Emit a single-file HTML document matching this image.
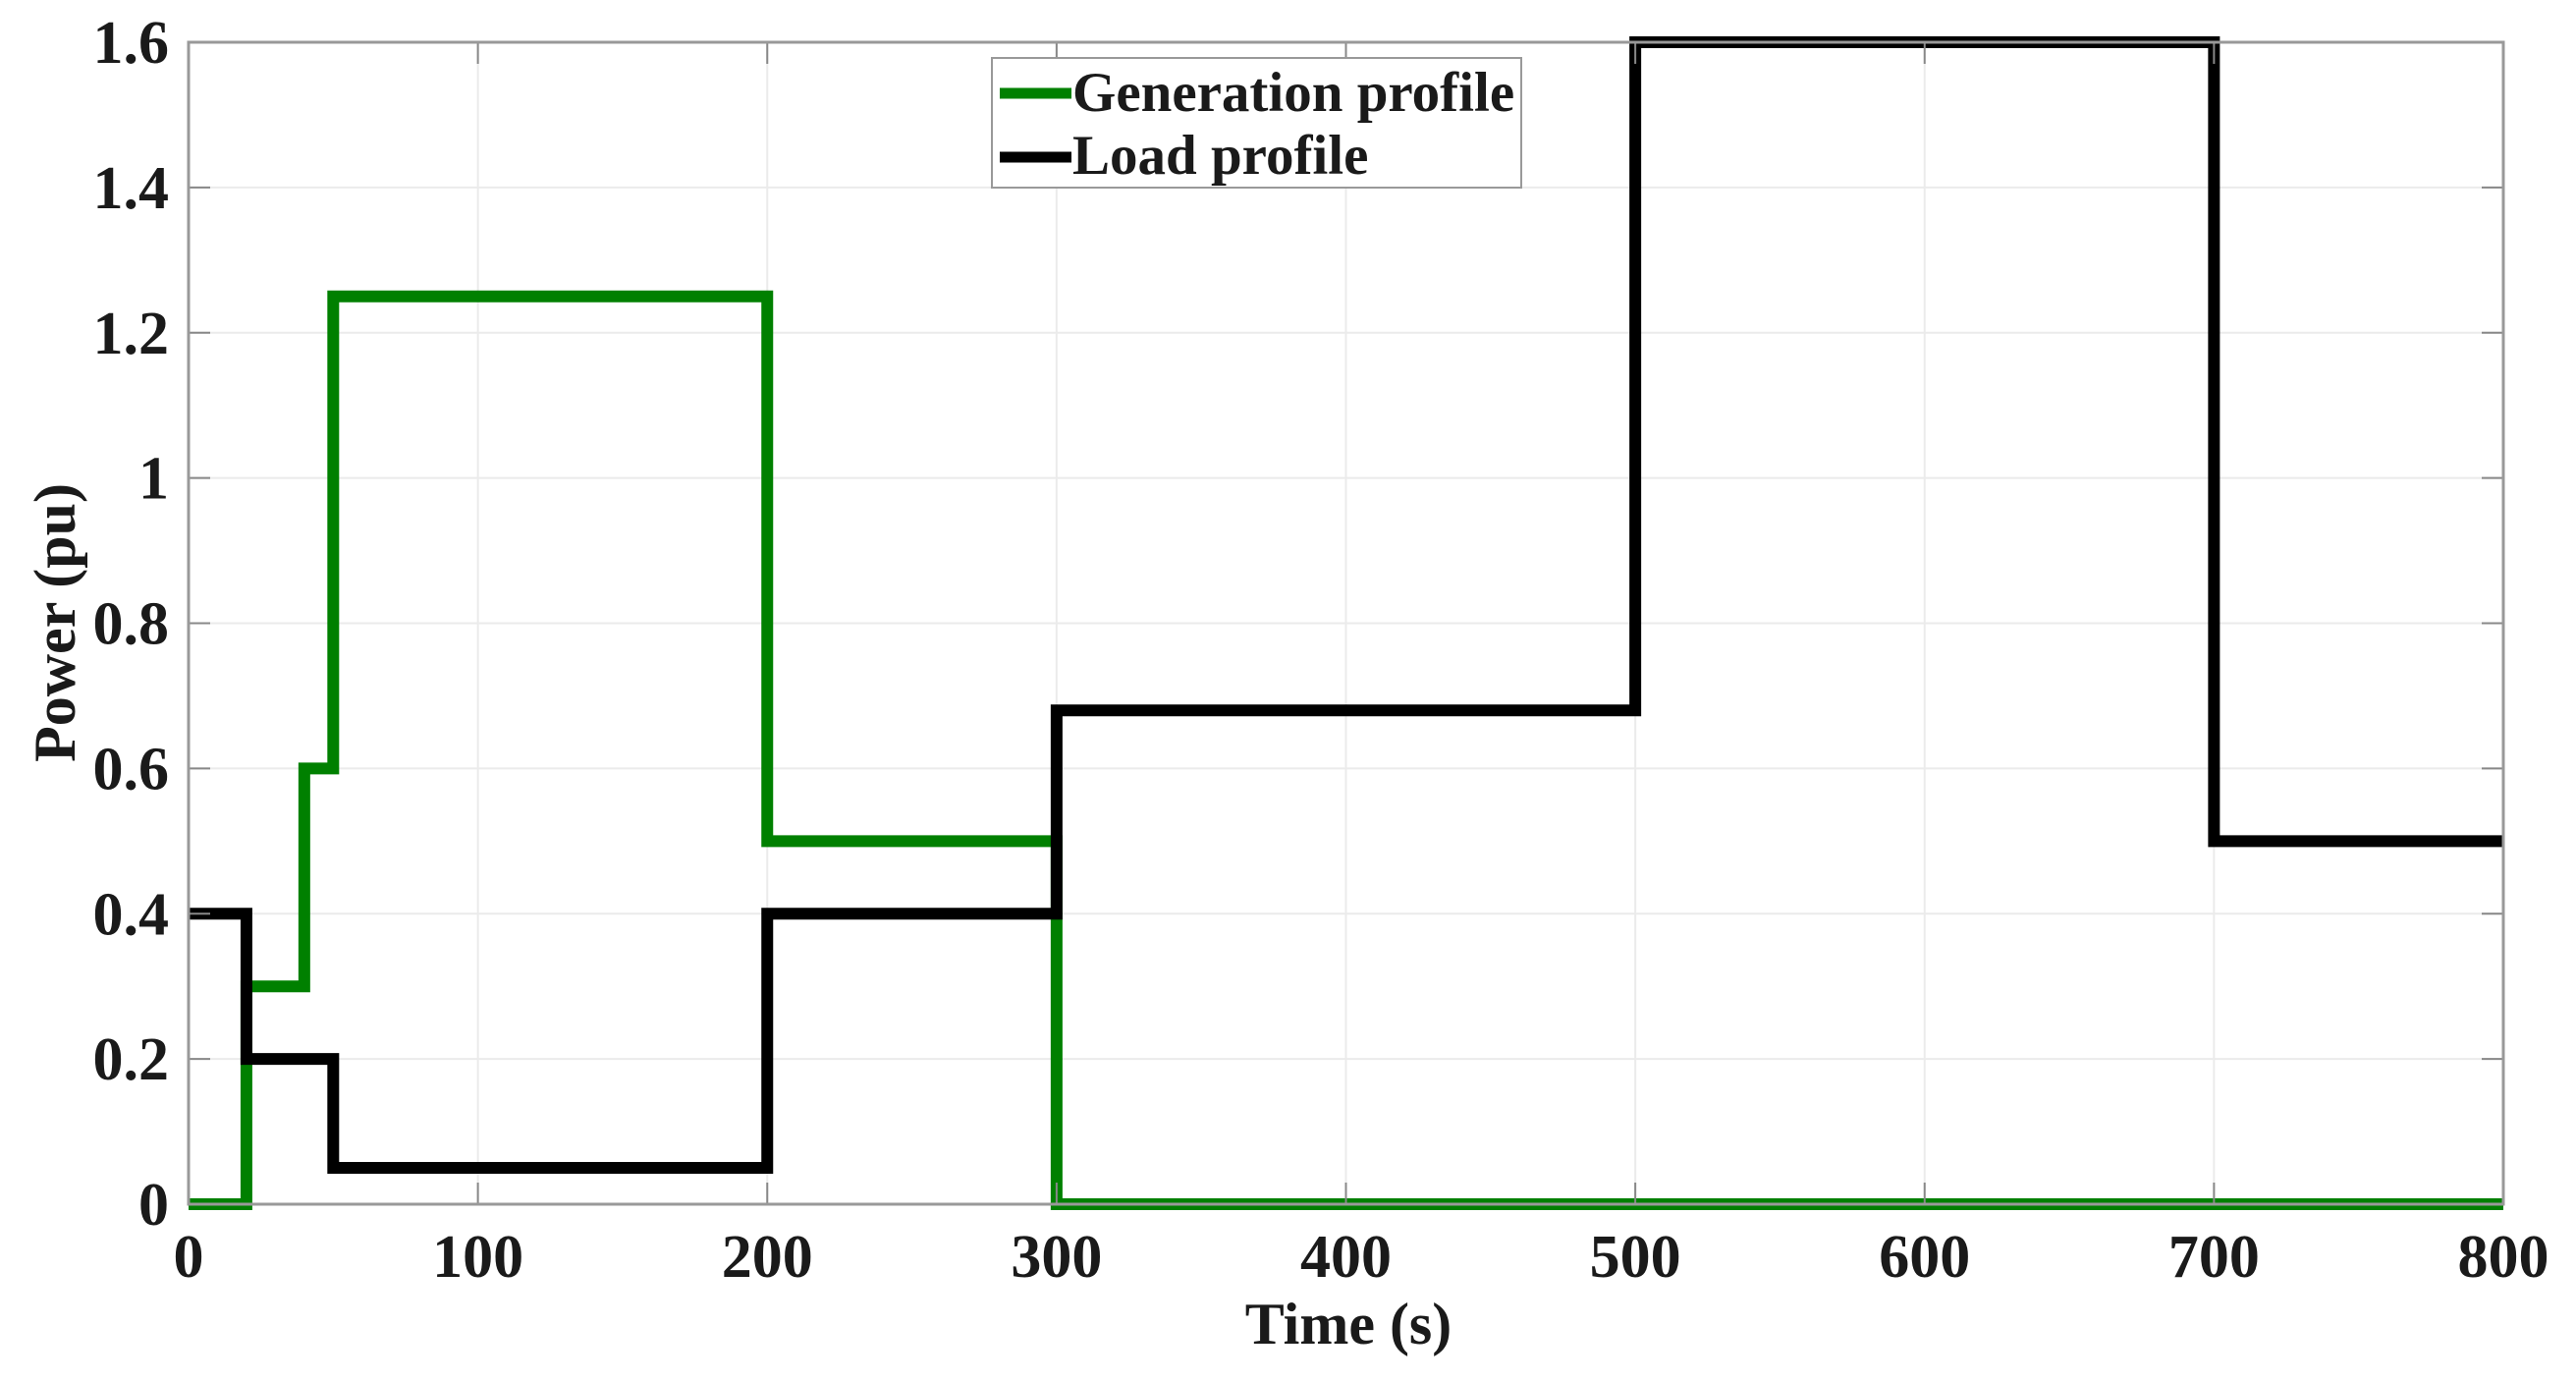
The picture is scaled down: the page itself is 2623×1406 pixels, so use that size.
<!DOCTYPE html>
<html><head><meta charset="utf-8"><style>
html,body{margin:0;padding:0;background:#fff;}
svg{display:block;}
text{font-family:"Liberation Serif",serif;font-weight:bold;fill:#1a1a1a;}
</style></head><body>
<svg id="chart" width="2623" height="1406" viewBox="0 0 2623 1406" xmlns="http://www.w3.org/2000/svg">
<g id="grid"></g>
<g id="series"></g>
<g id="axes"></g>
<text x="1373" y="1368" font-size="60" text-anchor="middle">Time (s)</text>
<text transform="translate(76,634) rotate(-90)" font-size="60" text-anchor="middle">Power (pu)</text>
<g>
<rect x="1010" y="59" width="539" height="132" fill="#fff" stroke="#999" stroke-width="2"/>
<line x1="1018" y1="95" x2="1091" y2="95" stroke="#008000" stroke-width="11"/>
<text x="1092" y="113" font-size="57">Generation profile</text>
<line x1="1018" y1="160" x2="1091" y2="160" stroke="#000" stroke-width="11"/>
<text x="1092" y="177" font-size="57">Load profile</text>
</g>
</svg>
<script>
const xTicks=[0,100,200,300,400,500,600,700,800];
const yTicks=[0,0.2,0.4,0.6,0.8,1,1.2,1.4,1.6];
const yTickLabels=["0","0.2","0.4","0.6","0.8","1","1.2","1.4","1.6"];
const genTimes=[0,20,40,50,200,300,800];
const genValues=[0,0.3,0.6,1.25,0.5,0,0];
const loadTimes=[0,20,50,200,300,500,700,800];
const loadValues=[0.4,0.2,0.05,0.4,0.68,1.6,0.5,0.5];
const L=192,R=2549,T=43,B=1226;
const xs=v=>L+(v-0)/(800-0)*(R-L);
const ys=v=>B-(v-0)/(1.6-0)*(B-T);
const NS="http://www.w3.org/2000/svg";
function mk(tag,attrs,parent){const e=document.createElementNS(NS,tag);for(const k in attrs)e.setAttribute(k,attrs[k]);parent.appendChild(e);return e;}
const grid=document.getElementById('grid'),axes=document.getElementById('axes'),series=document.getElementById('series');
xTicks.forEach((t,i)=>{
  const g=mk('line',{x1:xs(t),x2:xs(t),y1:T,y2:B,stroke:'#ebebeb','stroke-width':2},grid);
  
  
  const a=mk('line',{x1:xs(t),x2:xs(t),y1:B,y2:B-22,stroke:'#888','stroke-width':2},axes);
  
  
  const b=mk('line',{x1:xs(t),x2:xs(t),y1:T,y2:T+22,stroke:'#888','stroke-width':2},axes);
  
  
  const tx=mk('text',{x:xs(t),y:1300,'font-size':62,'text-anchor':'middle'},axes);
  tx.textContent=String(t);
  
  
});
yTicks.forEach((t,i)=>{
  const g=mk('line',{x1:L,x2:R,y1:ys(t),y2:ys(t),stroke:'#ebebeb','stroke-width':2},grid);
  
  
  const a=mk('line',{x1:L,x2:L+22,y1:ys(t),y2:ys(t),stroke:'#888','stroke-width':2},axes);
  
  
  const b=mk('line',{x1:R,x2:R-22,y1:ys(t),y2:ys(t),stroke:'#888','stroke-width':2},axes);
  
  
  const tx=mk('text',{x:172,y:ys(t)+21,'font-size':62,'text-anchor':'end'},axes);
  tx.textContent=yTickLabels[i];
  
  
});
const frame=mk('rect',{x:L,y:T,width:R-L,height:B-T,fill:'none',stroke:'#999','stroke-width':3},axes);


function stepPath(times,vals){
  let d='M'+xs(times[0])+','+ys(vals[0]);
  for(let i=1;i<times.length;i++){d+=' H'+xs(times[i]);if(i<vals.length&&i<times.length-1)d+=' V'+ys(vals[i]);}
  return d;
}
const gp=mk('path',{d:stepPath(genTimes,genValues),fill:'none',stroke:'#008000','stroke-width':12,'stroke-linejoin':'miter'},series);


const lp=mk('path',{d:stepPath(loadTimes,loadValues),fill:'none',stroke:'#000','stroke-width':12,'stroke-linejoin':'miter'},series);


</script>
</body></html>
